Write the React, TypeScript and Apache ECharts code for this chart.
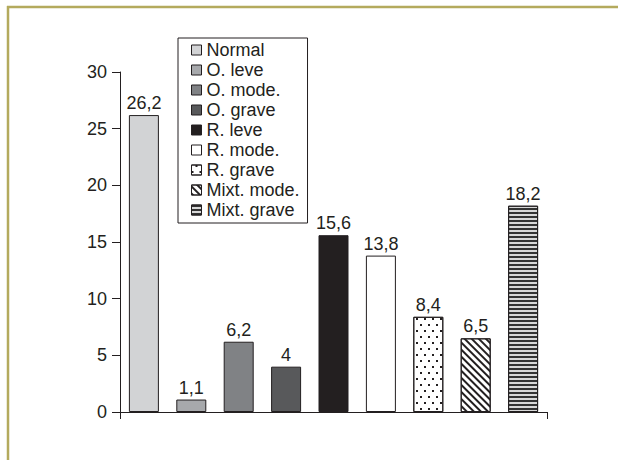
import React, { useEffect, useRef } from "react";
import * as echarts from "echarts";

const categories = [""];
const seriesNames = ["Normal", "O. leve", "O. mode.", "O. grave", "R. leve", "R. mode.", "R. grave", "Mixt. mode.", "Mixt. grave"];
const seriesValues = [26.2, 1.1, 6.2, 4, 15.6, 13.8, 8.4, 6.5, 18.2];
const yTicks = { min: 0, max: 30, interval: 5 };

const INK = "#231f20";
const FONT = "'Liberation Sans', Arial, sans-serif";
const FS = 18;

const fills = ["#d2d3d5", "#a7a9ac", "#808285", "#58595b", "#231f20", "#ffffff", "#ffffff", "#ffffff", "#d8d8d8"];
const decals: any[] = [
  null, null, null, null, null, null,
  { symbol: "rect", symbolSize: 1, dashArrayX: [[2, 6], [0, 4, 2, 2]], dashArrayY: [2, 4], color: INK, backgroundColor: "#ffffff" },
  { symbol: "rect", symbolSize: 1, dashArrayX: [1, 0], dashArrayY: [2, 2.5], rotation: Math.PI / 4, color: INK, backgroundColor: "#ffffff" },
  { symbol: "rect", symbolSize: 1, dashArrayX: [1, 0], dashArrayY: [2, 2], color: "#333333", backgroundColor: "#d8d8d8" },
];

export default function App() {
  const ref = useRef<HTMLDivElement>(null);
  useEffect(() => {
    if (!ref.current) return;
    const chart = echarts.init(ref.current, undefined, { renderer: "svg" });
    const series = seriesNames.map((name, i) => ({
      name,
      type: "bar",
      data: [seriesValues[i]],
      barWidth: 30,
      barGap: "58%",
      itemStyle: {
        color: fills[i],
        borderColor: INK,
        borderWidth: 1,
        ...(decals[i] ? { decal: decals[i] } : {}),
      },
      label: {
        show: true,
        position: "top",
        distance: 3,
        fontFamily: FONT,
        fontSize: FS,
        color: INK,
        formatter: (p: any) => String(p.value).replace(".", ","),
      },
    }));
    chart.setOption({
      animation: false,
      aria: { enabled: false, decal: { show: true } },
      grid: { left: 120, top: 72, right: 71, bottom: 48, containLabel: false },
      legend: {
        orient: "vertical",
        left: 178,
        top: 38,
        padding: [2, 8, 3, 13],
        itemGap: 0,
        itemWidth: 10,
        itemHeight: 10,
        borderColor: INK,
        borderWidth: 1,
        icon: "rect",
        itemStyle: { borderColor: INK, borderWidth: 1 },
        textStyle: { fontFamily: FONT, fontSize: FS, color: INK, lineHeight: 20 },
        data: seriesNames,
      },
      xAxis: {
        type: "category",
        data: categories,
        axisLine: { lineStyle: { color: INK, width: 1 } },
        axisTick: { show: true, length: 7, lineStyle: { color: INK } },
        axisLabel: { show: false },
      },
      yAxis: {
        type: "value",
        min: yTicks.min,
        max: yTicks.max,
        interval: yTicks.interval,
        axisLine: { show: true, lineStyle: { color: INK, width: 1 } },
        axisTick: { show: true, length: 8, lineStyle: { color: INK } },
        axisLabel: { margin: 13, fontFamily: FONT, fontSize: FS, color: INK },
        splitLine: { show: false },
      },
      graphic: [
        { type: "line", shape: { x1: 8, y1: 6, x2: 8, y2: 460 }, style: { stroke: "#b4aa5d", lineWidth: 2.5 } },
        { type: "line", shape: { x1: 7, y1: 7, x2: 618, y2: 7 }, style: { stroke: "#b4aa5d", lineWidth: 2.5 } },
      ],
      series,
    });
    return () => chart.dispose();
  }, []);
  return <div ref={ref} style={{ position: "fixed", left: 0, top: 0, width: 618, height: 460, background: "#fff" }} />;
}
